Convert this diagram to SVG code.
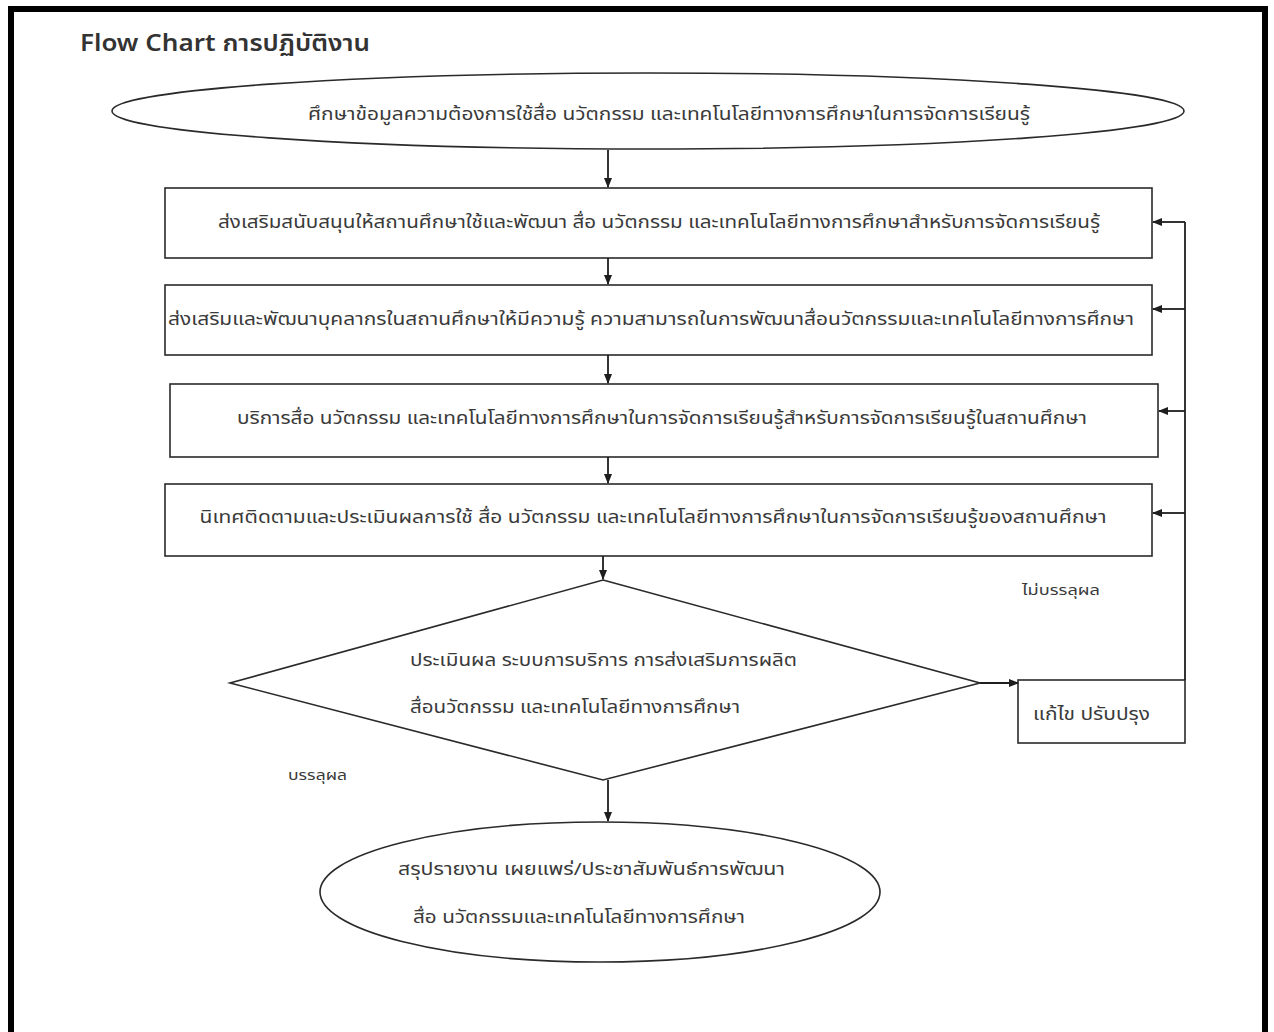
<svg xmlns="http://www.w3.org/2000/svg" width="1274" height="1032" viewBox="0 0 1274 1032">
<style>
.t{font-family:"Noto Sans Thai","Noto Sans","DejaVu Sans",sans-serif;font-size:17px;fill:#3a3a3a}
.s{font-size:14px}
.shape{fill:#fff;stroke:#2a2a2a;stroke-width:1.6}
.ln{fill:none;stroke:#1e1e1e;stroke-width:1.8}
</style>
<defs>
<marker id="ah" markerWidth="10" markerHeight="10" refX="9" refY="5" orient="auto" markerUnits="userSpaceOnUse">
<path d="M0,1 L10,5 L0,9 Z" fill="#1e1e1e"/>
</marker>
</defs>
<rect x="0" y="0" width="1274" height="1032" fill="#fff"/>
<path d="M11,1040 V9 H1265 V1040" fill="none" stroke="#000" stroke-width="6"/>
<text x="80" y="51" textLength="290" lengthAdjust="spacingAndGlyphs" style="font-family:'Noto Sans Thai','Noto Sans','DejaVu Sans',sans-serif;font-size:23px;font-weight:600;fill:#333">Flow Chart การปฏิบัติงาน</text>

<g id="start">
<ellipse class="shape" cx="648" cy="111" rx="536" ry="38"/>
<text class="t" x="669" y="120" text-anchor="middle" textLength="722" lengthAdjust="spacingAndGlyphs">ศึกษาข้อมูลความต้องการใช้สื่อ นวัตกรรม และเทคโนโลยีทางการศึกษาในการจัดการเรียนรู้</text>
</g>
<g id="box1">
<rect class="shape" x="165" y="188" width="987" height="70"/>
<text class="t" x="659" y="228" text-anchor="middle" textLength="882" lengthAdjust="spacingAndGlyphs">ส่งเสริมสนับสนุนให้สถานศึกษาใช้และพัฒนา สื่อ นวัตกรรม และเทคโนโลยีทางการศึกษาสำหรับการจัดการเรียนรู้</text>
</g>
<g id="box2">
<rect class="shape" x="165" y="285" width="987" height="70"/>
<text class="t" x="651" y="325" text-anchor="middle" textLength="966" lengthAdjust="spacingAndGlyphs">ส่งเสริมและพัฒนาบุคลากรในสถานศึกษาให้มีความรู้ ความสามารถในการพัฒนาสื่อนวัตกรรมและเทคโนโลยีทางการศึกษา</text>
</g>
<g id="box3">
<rect class="shape" x="170" y="384" width="988" height="73"/>
<text class="t" x="662" y="424" text-anchor="middle" textLength="850" lengthAdjust="spacingAndGlyphs">บริการสื่อ นวัตกรรม และเทคโนโลยีทางการศึกษาในการจัดการเรียนรู้สำหรับการจัดการเรียนรู้ในสถานศึกษา</text>
</g>
<g id="box4">
<rect class="shape" x="165" y="484" width="987" height="72"/>
<text class="t" x="653" y="523" text-anchor="middle" textLength="907" lengthAdjust="spacingAndGlyphs">นิเทศติดตามและประเมินผลการใช้ สื่อ นวัตกรรม และเทคโนโลยีทางการศึกษาในการจัดการเรียนรู้ของสถานศึกษา</text>
</g>
<g id="decision">
<polygon class="shape" points="603,580 980,683 603,780 230,683"/>
<text class="t" x="410" y="666" textLength="387" lengthAdjust="spacingAndGlyphs">ประเมินผล ระบบการบริการ การส่งเสริมการผลิต</text>
<text class="t" x="410" y="713" textLength="330" lengthAdjust="spacingAndGlyphs">สื่อนวัตกรรม และเทคโนโลยีทางการศึกษา</text>
</g>
<g id="fix">
<rect class="shape" x="1018" y="680" width="167" height="63"/>
<text class="t" x="1033" y="720" textLength="117" lengthAdjust="spacingAndGlyphs">แก้ไข ปรับปรุง</text>
</g>
<g id="end">
<ellipse class="shape" cx="600" cy="892" rx="280" ry="70"/>
<text class="t" x="398" y="875" textLength="387" lengthAdjust="spacingAndGlyphs">สรุปรายงาน เผยแพร่/ประชาสัมพันธ์การพัฒนา</text>
<text class="t" x="413" y="923" textLength="332" lengthAdjust="spacingAndGlyphs">สื่อ นวัตกรรมและเทคโนโลยีทางการศึกษา</text>
</g>
<g id="labels">
<text class="t s" x="1022" y="595" textLength="78" lengthAdjust="spacingAndGlyphs">ไม่บรรลุผล</text>
<text class="t s" x="288" y="780" textLength="59" lengthAdjust="spacingAndGlyphs">บรรลุผล</text>
</g>
<g id="connectors">
<line class="ln" x1="608" y1="150" x2="608" y2="187" marker-end="url(#ah)"/>
<line class="ln" x1="608" y1="258" x2="608" y2="284" marker-end="url(#ah)"/>
<line class="ln" x1="608" y1="355" x2="608" y2="383" marker-end="url(#ah)"/>
<line class="ln" x1="608" y1="457" x2="608" y2="483" marker-end="url(#ah)"/>
<line class="ln" x1="603" y1="556" x2="603" y2="579" marker-end="url(#ah)"/>
<line class="ln" x1="608" y1="780" x2="608" y2="821" marker-end="url(#ah)"/>
<line class="ln" x1="980" y1="683" x2="1018" y2="683" marker-end="url(#ah)"/>
<polyline class="ln" points="1185,680 1185,222"/>
<line class="ln" x1="1185" y1="222" x2="1153" y2="222" marker-end="url(#ah)"/>
<line class="ln" x1="1185" y1="309" x2="1153" y2="309" marker-end="url(#ah)"/>
<line class="ln" x1="1185" y1="411" x2="1159" y2="411" marker-end="url(#ah)"/>
<line class="ln" x1="1185" y1="513" x2="1153" y2="513" marker-end="url(#ah)"/>
</g>
</svg>
